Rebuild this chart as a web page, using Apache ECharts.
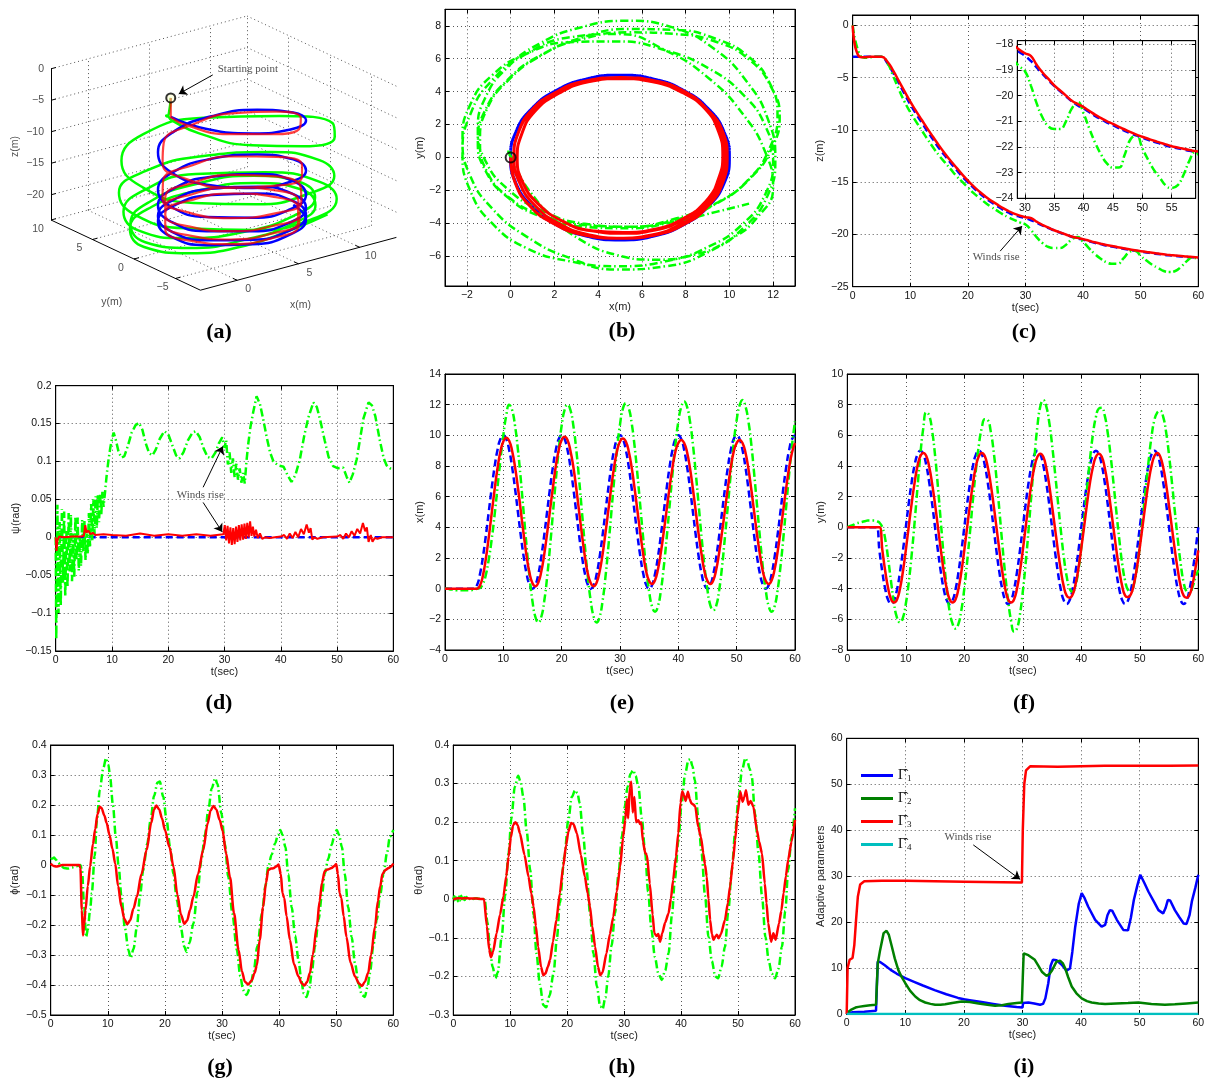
<!DOCTYPE html>
<html>
<head>
<meta charset="utf-8">
<title>Trajectory tracking results</title>
<script src="https://cdn.jsdelivr.net/npm/echarts@6/dist/echarts.min.js"></script>
<style>
    html, body { margin: 0; padding: 0; background: #fff; }
    #main { width: 1210px; height: 1080px; }
</style>
</head>
<body>
<div id="main"></div>
<script>
// sampling grids
var T_HALF = [];
for (var i = 0; i <= 120; i++) T_HALF.push(i / 2);
var T_ONE = [];
for (var k = 0; k <= 60; k++) T_ONE.push(k);

// x(t), 0.5 s steps: reference (blue), actual (red), compared (green)
var xRef = [0,0,0,0,0,0,0,0,0,0,0,
    0.24,0.95,2.06,3.45,5,6.55,7.94,9.05,9.76,10,9.76,9.05,7.94,6.55,5,3.45,2.06,0.95,0.24,0,
    0.24,0.95,2.06,3.45,5,6.55,7.94,9.05,9.76,10,9.76,9.05,7.94,6.55,5,3.45,2.06,0.95,0.24,0,
    0.24,0.95,2.06,3.45,5,6.55,7.94,9.05,9.76,10,9.76,9.05,7.94,6.55,5,3.45,2.06,0.95,0.24,0,
    0.24,0.95,2.06,3.45,5,6.55,7.94,9.05,9.76,10,9.76,9.05,7.94,6.55,5,3.45,2.06,0.95,0.24,0,
    0.24,0.95,2.06,3.45,5,6.55,7.94,9.05,9.76,10,9.76,9.05,7.94,6.55,5,3.45,2.06,0.95,0.24,0,
    0.24,0.95,2.06,3.45,5,6.55,7.94,9.05,9.76,10];
var xAct = [0,0,0,0,0,0,0,0,0,0,0,0,
    0.2,0.85,1.95,3.35,4.9,6.45,7.85,8.95,9.6,9.85,
    9.65,9.0,7.95,6.6,5.05,3.5,2.1,1.0,0.35,0.15,
    0.4,1.1,2.2,3.6,5.1,6.6,8.0,9.05,9.7,9.9,
    9.7,9.0,7.95,6.55,5.0,3.45,2.05,0.95,0.35,0.15,
    0.4,1.1,2.2,3.6,5.1,6.6,7.95,9.0,9.6,9.8,
    9.6,8.95,7.9,6.55,5.05,3.55,2.2,1.1,0.5,0.3,
    0.55,1.25,2.35,3.7,5.15,6.6,7.9,8.95,9.5,9.7,
    9.5,8.9,7.85,6.5,5.0,3.5,2.2,1.1,0.5,0.3,
    0.55,1.25,2.35,3.7,5.15,6.6,7.9,8.95,9.5,9.7,
    9.5,8.9,7.85,6.5,5.0,3.5,2.2,1.1,0.5,0.3,
    0.55,1.25,2.35,3.7,5.15,6.6,7.9,8.9,9.5];
var xCmp = [0,0,-0.05,-0.05,-0.1,-0.1,-0.1,-0.1,-0.1,-0.1,-0.05,0,0.05,
    0.3,0.9,1.9,3.2,4.8,6.6,8.4,10.0,11.3,12.0,
    11.65,10.64,9.07,7.09,4.9,2.71,0.73,-0.84,-1.85,-2.2,
    -1.85,-0.84,0.73,2.71,4.9,7.09,9.07,10.64,11.65,12.0,
    11.65,10.64,9.07,7.09,4.9,2.71,0.73,-0.84,-1.85,-2.2,
    -1.85,-0.84,0.73,2.71,4.9,7.1,9.1,10.7,11.75,12.1,
    11.77,10.8,9.3,7.4,5.3,3.2,1.3,-0.2,-1.17,-1.5,
    -1.15,-0.15,1.4,3.3,5.4,7.5,9.4,10.9,11.85,12.2,
    11.85,10.9,9.4,7.5,5.4,3.3,1.4,-0.1,-1.1,-1.4,
    -1.1,-0.1,1.45,3.4,5.45,7.55,9.5,11.0,11.95,12.3,
    11.9,10.95,9.45,7.5,5.4,3.3,1.35,-0.15,-1.15,-1.5,
    -1.15,-0.15,1.4,3.3,5.4,7.5,9.4,10.9];

// y(t), 0.5 s steps
var yRef = [0,0,0,0,0,0,0,0,0,0,0,
    -1.55,-2.94,-4.05,-4.76,-5,-4.76,-4.05,-2.94,-1.55,0,1.55,2.94,4.05,4.76,5,4.76,4.05,2.94,1.55,0,
    -1.55,-2.94,-4.05,-4.76,-5,-4.76,-4.05,-2.94,-1.55,0,1.55,2.94,4.05,4.76,5,4.76,4.05,2.94,1.55,0,
    -1.55,-2.94,-4.05,-4.76,-5,-4.76,-4.05,-2.94,-1.55,0,1.55,2.94,4.05,4.76,5,4.76,4.05,2.94,1.55,0,
    -1.55,-2.94,-4.05,-4.76,-5,-4.76,-4.05,-2.94,-1.55,0,1.55,2.94,4.05,4.76,5,4.76,4.05,2.94,1.55,0,
    -1.55,-2.94,-4.05,-4.76,-5,-4.76,-4.05,-2.94,-1.55,0,1.55,2.94,4.05,4.76,5,4.76,4.05,2.94,1.55,0,
    -1.55,-2.94,-4.05,-4.76,-5,-4.76,-4.05,-2.94,-1.55,0];
var yAct = [0,0,0,0,0,0,0,0,0,0,0,0,
    -1.5,-2.9,-4.0,-4.7,-4.9,-4.7,-4.0,-2.9,-1.5,0.05,
    1.55,2.9,4.0,4.65,4.85,4.65,3.95,2.85,1.5,0,
    -1.5,-2.9,-4.0,-4.7,-4.9,-4.7,-4.0,-2.9,-1.5,0.05,
    1.55,2.9,4.0,4.65,4.85,4.65,3.95,2.85,1.5,0,
    -1.5,-2.9,-4.0,-4.7,-4.9,-4.7,-4.0,-2.9,-1.5,0.05,
    1.55,2.9,3.95,4.6,4.8,4.6,3.9,2.8,1.4,-0.05,
    -1.5,-2.8,-3.85,-4.45,-4.6,-4.4,-3.75,-2.7,-1.35,0.1,
    1.6,2.95,3.95,4.6,4.8,4.6,3.9,2.8,1.4,-0.05,
    -1.5,-2.8,-3.85,-4.45,-4.55,-4.35,-3.7,-2.65,-1.3,0.15,
    1.6,2.95,4.0,4.65,4.85,4.6,3.9,2.8,1.4,-0.05,
    -1.5,-2.8,-3.85,-4.45,-4.6,-4.4,-3.75,-2.7,-1.5];
var yCmp = [0,0.1,0.15,0.25,0.3,0.35,0.4,0.45,0.45,0.45,0.4,0.3,0,
    -0.8,-2.1,-3.6,-5.0,-5.9,-6.2,-5.9,-5.0,-3.6,
    -1.8,0.3,2.6,4.8,6.5,7.5,7.3,6.3,4.7,2.6,
    0.3,-2.0,-4.0,-5.5,-6.3,-6.6,-6.3,-5.4,-4.0,-2.2,
    -0.2,1.9,3.8,5.4,6.5,7.05,7.0,6.3,5.0,3.2,
    1.1,-1.1,-3.1,-4.8,-6.1,-6.8,-6.6,-5.7,-4.2,-2.3,
    -0.1,2.3,4.6,6.6,7.9,8.3,7.9,6.9,5.4,3.6,
    1.7,-0.2,-1.9,-3.2,-4.0,-4.2,-3.8,-2.8,-1.3,0.6,
    2.6,4.5,6.1,7.2,7.75,7.8,7.3,6.2,4.7,2.9,
    1.0,-0.8,-2.4,-3.5,-4.1,-4.2,-3.7,-2.7,-1.2,0.6,
    2.5,4.3,5.9,7.0,7.5,7.6,7.2,6.2,4.7,2.9,
    1.0,-0.8,-2.4,-3.6,-4.2,-4.3,-3.9,-3.3,-2.8];

// z(t), 1 s steps
var zRef = [-3,-3,-3,-3,-3,-3,-3.6,-4.5,-5.5,-6.55,-7.55,-8.45,-9.3,-10.15,-10.95,-11.75,
    -12.45,-13.15,-13.8,-14.45,-15.0,-15.55,-16.05,-16.5,-16.9,-17.25,-17.6,-17.9,-18.15,-18.3,
    -18.45,-18.65,-18.9,-19.15,-19.4,-19.62,-19.83,-20.03,-20.22,-20.38,-20.5,-20.65,-20.8,-20.92,
    -21.05,-21.15,-21.27,-21.37,-21.47,-21.56,-21.64,-21.72,-21.8,-21.87,-21.94,-22.0,-22.05,
    -22.1,-22.15,-22.19,-22.22];
var zAct = [0,-2.9,-3.05,-3.0,-3.0,-3.0,-3.45,-4.3,-5.3,-6.3,-7.3,-8.2,-9.05,-9.9,-10.7,-11.5,
    -12.25,-12.95,-13.6,-14.25,-14.85,-15.4,-15.9,-16.35,-16.75,-17.1,-17.45,-17.75,-18.0,-18.2,
    -18.35,-18.45,-18.8,-19.1,-19.35,-19.6,-19.8,-20.0,-20.2,-20.33,-20.45,-20.6,-20.75,-20.88,
    -21.0,-21.1,-21.22,-21.32,-21.42,-21.52,-21.6,-21.68,-21.76,-21.83,-21.9,-21.97,-22.02,
    -22.07,-22.12,-22.16,-22.2];
var zCmp = [0,-2.5,-3.1,-3.05,-3.0,-3.0,-3.55,-4.8,-6.1,-7.3,-8.3,-9.2,-10.05,-10.9,-11.7,-12.45,
    -13.1,-13.75,-14.4,-14.95,-15.5,-16.05,-16.5,-16.95,-17.35,-17.7,-18.05,-18.35,-18.6,-18.85,
    -19.05,-19.6,-20.3,-20.85,-21.2,-21.3,-21.3,-21.0,-20.5,-20.25,-20.7,-21.3,-21.85,-22.3,
    -22.65,-22.8,-22.8,-22.3,-21.7,-21.55,-22.05,-22.5,-22.9,-23.2,-23.5,-23.6,-23.5,-23.1,
    -22.55,-22.2,-22.45];

// yaw psi(t) as [t, rad]
var psiRef = [[0, 0], [60, 0]];
var psiAct = [[0,0],[0.15,-0.018],[0.3,-0.004],[0.6,0.001],[1.5,0],[3,0.001],[4.5,0.001],[5.0,0.002],
    [5.25,0.016],[5.5,0.006],[5.8,0.009],[6.2,0.004],[6.6,0.006],[7.0,0.003],[8.5,0.004],[10,0.003],
    [12.5,0.002],[15,0.005],[17.5,0.002],[20,0.004],[22.5,0.002],[25,0.004],[27.5,0.002],[29.8,0.004],
    [30.05,0.016],[30.3,-0.004],[30.55,0.015],[30.8,-0.008],[31.05,0.013],[31.3,-0.01],[31.55,0.012],
    [31.8,-0.009],[32.05,0.014],[32.3,-0.006],[32.55,0.016],[32.8,-0.004],[33.05,0.017],[33.3,-0.003],
    [33.55,0.018],[33.8,-0.002],[34.05,0.019],[34.3,0.0],[34.55,0.021],[34.8,0.002],[35.05,0.014],
    [35.3,0.001],[35.6,0.01],[35.9,-0.001],[36.3,0.005],[36.7,-0.002],[37.2,0.0],[38,-0.001],[40,0.001],
    [40.6,0.003],[41.1,-0.002],[41.6,0.005],[42.1,-0.001],[42.6,0.007],[43.1,0.0],[43.6,0.011],
    [44.1,0.004],[44.6,0.017],[45.0,0.006],[45.3,0.012],[45.6,-0.003],[46.0,0.0],[46.5,-0.002],
    [47.5,0.0],[50,0.001],[50.6,0.003],[51.1,-0.002],[51.6,0.005],[52.1,0.0],[52.6,0.008],[53.1,0.002],
    [53.6,0.011],[54.1,0.005],[54.6,0.019],[55.0,0.008],[55.3,0.013],[55.6,-0.006],[56.0,0.003],
    [56.3,-0.006],[56.7,-0.001],[57.2,-0.002],[58,0.0],[60,0.0]];
var psiCmp = [[0,0],[0.1,-0.135],[0.3,0.043],[0.5,-0.1],[0.7,0.02],[0.9,-0.09],[1.1,0.037],
    [1.3,-0.06],[1.5,0.034],[1.7,-0.078],[1.9,0.01],[2.1,-0.066],[2.3,0.032],[2.5,-0.045],[2.7,0.03],
    [2.9,-0.058],[3.1,0.005],[3.3,-0.052],[3.5,0.027],[3.7,-0.03],[3.9,0.026],[4.1,-0.044],[4.3,0.0],
    [4.5,-0.038],[4.7,0.023],[4.9,-0.02],[5.1,0.022],[5.3,-0.03],[5.5,0.005],[5.7,-0.022],[5.9,0.032],
    [6.1,-0.012],[6.3,0.044],[6.5,-0.004],[6.7,0.05],[6.9,0.004],[7.1,0.054],[7.3,0.012],[7.5,0.056],
    [7.7,0.02],[7.9,0.058],[8.1,0.03],[8.3,0.06],[8.5,0.04],[8.8,0.062],
    [9.1,0.085],[9.4,0.103],[9.7,0.118],[10.0,0.13],[10.3,0.138],[10.7,0.128],[11.2,0.112],
    [11.7,0.105],[12.2,0.107],[12.8,0.12],[13.5,0.138],[14.2,0.148],[14.8,0.151],[15.4,0.142],
    [16.0,0.124],[16.6,0.111],[17.2,0.108],[17.8,0.116],[18.5,0.13],[19.3,0.14],[20.0,0.136],
    [20.7,0.122],[21.4,0.108],[22.0,0.104],[22.7,0.112],[23.5,0.128],[24.3,0.138],[24.9,0.14],
    [25.6,0.132],[26.3,0.117],[27.0,0.106],[27.7,0.104],[28.4,0.112],[29.0,0.124],[29.6,0.132],
    [30.0,0.118],[30.3,0.128],[30.6,0.096],[30.9,0.112],[31.2,0.085],[31.5,0.104],[31.8,0.079],
    [32.1,0.097],[32.4,0.076],[32.7,0.091],[33.0,0.072],[33.3,0.085],[33.6,0.071],[33.9,0.1],
    [34.2,0.122],[34.6,0.145],[35.1,0.165],[35.7,0.186],[36.3,0.176],[36.9,0.155],[37.5,0.132],
    [38.1,0.112],[38.7,0.1],[39.5,0.095],[40.5,0.093],[41.2,0.082],[41.9,0.073],[42.6,0.082],
    [43.4,0.103],[44.2,0.135],[44.9,0.158],[45.8,0.178],[46.4,0.172],[47.0,0.155],[47.8,0.128],
    [48.5,0.106],[49.3,0.094],[50.2,0.091],[51.1,0.092],[51.7,0.08],[52.2,0.072],[52.8,0.083],
    [53.5,0.103],[54.1,0.13],[54.7,0.157],[55.6,0.178],[56.2,0.174],[56.8,0.16],[57.6,0.128],
    [58.3,0.104],[58.8,0.095],[59.4,0.091],[60,0.09]];

// roll phi(t)
var phiAct = [[0,0.005],[0.5,-0.003],[1,-0.005],[1.5,-0.003],[2,0],[3,0],[4,0],[5,0],[5.2,-0.01],
    [5.45,-0.15],[5.65,-0.235],[5.85,-0.2],[6.1,-0.15],[6.5,-0.07],[6.9,-0.005],[7.4,0.07],[7.8,0.12],
    [8.2,0.17],[8.6,0.194],[8.9,0.19],[9.4,0.165],[9.8,0.14],[10.3,0.1],[10.8,0.055],[11.3,0.005],
    [11.8,-0.07],[12.4,-0.14],[12.9,-0.18],[13.4,-0.197],[13.9,-0.185],[14.5,-0.145],[15.1,-0.105],
    [15.9,-0.03],[16.8,0.05],[17.6,0.14],[18.1,0.185],[18.5,0.198],[19,0.185],[19.5,0.155],[20,0.117],
    [20.8,0.06],[21.5,-0.005],[22.2,-0.1],[22.8,-0.165],[23.4,-0.196],[23.9,-0.185],[24.4,-0.15],
    [25,-0.105],[25.8,-0.03],[26.7,0.05],[27.5,0.14],[28,0.182],[28.5,0.197],[29,0.185],[29.6,0.15],
    [30.1,0.115],[30.7,0.04],[31.4,-0.04],[32.1,-0.16],[32.9,-0.283],[33.5,-0.355],[34,-0.389],
    [34.6,-0.398],[35.2,-0.385],[35.7,-0.36],[36.1,-0.335],[36.6,-0.25],[37.2,-0.14],[37.7,-0.06],
    [38.1,-0.017],[38.6,-0.012],[39,-0.011],[39.5,-0.005],[39.9,0.002],[40.3,-0.03],[40.6,-0.095],
    [40.9,-0.11],[41.3,-0.17],[41.9,-0.25],[42.6,-0.33],[43.4,-0.372],[44,-0.395],[44.4,-0.402],
    [44.9,-0.39],[45.4,-0.36],[45.9,-0.3],[46.6,-0.205],[47.1,-0.12],[47.5,-0.06],[48,-0.02],
    [48.5,-0.015],[49.2,-0.01],[49.6,-0.004],[50,0.003],[50.3,-0.03],[50.6,-0.095],[50.9,-0.11],
    [51.3,-0.17],[51.8,-0.24],[52.5,-0.325],[53.3,-0.372],[54,-0.395],[54.5,-0.403],[55,-0.39],
    [55.6,-0.36],[56.1,-0.3],[56.8,-0.205],[57.3,-0.12],[57.7,-0.072],[58.1,-0.03],[58.6,-0.017],
    [59.2,-0.01],[59.6,-0.005],[60,0.005]];
var phiCmp = [[0,0.02],[0.3,0.022],[0.6,0.025],[0.9,0.018],[1.3,0.008],[1.8,-0.002],[2.3,-0.01],
    [3,-0.012],[3.8,-0.008],[4.5,-0.004],[5.2,0.0],[5.5,-0.02],[5.8,-0.12],[6.2,-0.24],[6.5,-0.215],
    [6.9,-0.15],[7.2,-0.094],[7.7,0.03],[8.1,0.15],[8.6,0.25],[9.2,0.322],[9.7,0.356],[10.1,0.335],
    [10.4,0.294],[10.9,0.2],[11.4,0.094],[11.9,-0.005],[12.4,-0.106],[13,-0.21],[13.6,-0.283],
    [14,-0.31],[14.5,-0.28],[15.1,-0.206],[15.6,-0.11],[16.2,-0.017],[16.9,0.07],[17.5,0.15],
    [18.1,0.23],[18.7,0.275],[19.1,0.278],[19.7,0.228],[20.3,0.15],[20.9,0.06],[21.5,-0.03],
    [22.1,-0.117],[22.8,-0.21],[23.4,-0.272],[23.8,-0.29],[24.3,-0.26],[25,-0.194],[25.7,-0.09],
    [26.4,0.017],[27,0.1],[27.6,0.183],[28.2,0.255],[28.8,0.289],[29.2,0.27],[29.9,0.172],[30.5,0.07],
    [31.1,-0.039],[31.8,-0.16],[32.6,-0.283],[33.2,-0.37],[33.7,-0.417],[34.3,-0.433],[34.9,-0.41],
    [35.5,-0.361],[36.2,-0.27],[37,-0.161],[37.6,-0.07],[38.1,-0.006],[38.7,0.035],[39.3,0.072],
    [39.8,0.1],[40.2,0.117],[40.6,0.1],[41.1,0.06],[41.6,-0.03],[42.2,-0.14],[42.8,-0.235],
    [43.4,-0.317],[43.9,-0.385],[44.3,-0.428],[44.8,-0.44],[45.3,-0.41],[45.7,-0.361],[46.3,-0.27],
    [46.9,-0.183],[47.5,-0.1],[48,-0.028],[48.6,0.02],[49.2,0.067],[49.7,0.1],[50.1,0.117],[50.5,0.1],
    [51,0.06],[51.5,-0.03],[52.1,-0.14],[52.7,-0.24],[53.3,-0.328],[53.9,-0.395],[54.5,-0.433],
    [55,-0.44],[55.5,-0.405],[55.9,-0.361],[56.5,-0.27],[57.1,-0.183],[57.7,-0.1],[58.3,-0.028],
    [58.9,0.04],[59.4,0.094],[60,0.117]];

// pitch theta(t)
var thetaAct = [[0,0],[0.5,0.002],[1,0.003],[1.5,0.002],[2,0.003],[3,0.002],[4,0.002],[5,0.001],
    [5.4,0],[5.9,-0.07],[6.3,-0.13],[6.6,-0.15],[7.0,-0.135],[7.6,-0.088],[8.2,-0.04],[8.8,0.007],
    [9.3,0.06],[9.7,0.11],[10.1,0.16],[10.5,0.192],[10.9,0.2],[11.3,0.192],[11.7,0.171],[12.5,0.115],
    [13.2,0.059],[13.7,0.015],[14.1,-0.019],[14.5,-0.07],[14.9,-0.123],[15.4,-0.175],[15.8,-0.197],
    [16.2,-0.192],[16.6,-0.175],[17,-0.157],[17.5,-0.11],[18.1,-0.054],[18.7,0.015],[19.3,0.085],
    [19.8,0.14],[20.2,0.175],[20.7,0.198],[21.1,0.195],[21.7,0.171],[22.4,0.115],[23.1,0.059],
    [23.6,0.015],[24,-0.019],[24.4,-0.07],[24.9,-0.123],[25.4,-0.175],[25.8,-0.197],[26.2,-0.19],
    [26.9,-0.14],[27.5,-0.09],[28.1,-0.045],[28.7,0.02],[29.3,0.085],[29.8,0.16],[30.2,0.206],
    [30.5,0.26],[30.7,0.21],[31.0,0.29],[31.25,0.305],[31.5,0.225],[31.8,0.265],[32.1,0.2],
    [32.5,0.205],[32.8,0.195],[33.0,0.2],[33.3,0.15],[33.7,0.12],[34.0,0.115],[34.5,0.04],[35.0,-0.04],
    [35.3,-0.088],[35.7,-0.095],[36.0,-0.09],[36.3,-0.11],[36.7,-0.088],[37.2,-0.06],[37.8,-0.036],
    [38.2,0.0],[38.6,0.05],[39.1,0.11],[39.5,0.171],[39.9,0.25],[40.2,0.28],[40.5,0.27],[40.8,0.255],
    [41.2,0.279],[41.5,0.26],[41.8,0.249],[42.2,0.245],[42.5,0.24],[43,0.188],[43.5,0.16],[43.9,0.119],
    [44.2,0.09],[44.5,0.059],[44.8,0.0],[45.1,-0.054],[45.4,-0.09],[45.7,-0.105],[46.0,-0.097],
    [46.3,-0.092],[46.6,-0.101],[47.0,-0.09],[47.7,-0.054],[48.2,-0.01],[48.6,0.033],[49.1,0.1],
    [49.5,0.154],[49.9,0.22],[50.4,0.279],[50.8,0.253],[51.1,0.265],[51.4,0.283],[51.8,0.245],
    [52.2,0.255],[52.7,0.24],[53.3,0.18],[53.7,0.15],[54.2,0.119],[54.7,0.041],[55.0,-0.01],
    [55.3,-0.062],[55.8,-0.11],[56.2,-0.088],[56.6,-0.105],[57.2,-0.062],[57.6,-0.03],[58,0.016],
    [58.4,0.06],[58.8,0.102],[59.4,0.15],[60,0.206]];
var thetaCmp = [[0,0],[0.2,0.008],[0.4,-0.004],[0.6,0.01],[0.8,-0.005],[1.0,0.011],[1.2,-0.003],
    [1.4,0.009],[1.6,-0.004],[1.8,0.008],[2.0,-0.002],[2.3,0.006],[2.6,-0.001],[3.0,0.004],[3.5,0.001],
    [4,0.003],[4.5,0.001],[5,0.002],[5.5,0],[6.0,-0.06],[6.4,-0.123],[6.9,-0.175],[7.4,-0.205],
    [7.8,-0.19],[8.5,-0.097],[9.1,0.01],[9.7,0.119],[10.2,0.21],[10.8,0.292],[11.4,0.32],[11.8,0.305],
    [12.3,0.266],[12.9,0.175],[13.5,0.076],[14.1,-0.04],[14.6,-0.14],[15.2,-0.22],[15.8,-0.274],
    [16.3,-0.28],[16.9,-0.25],[17.6,-0.192],[18.2,-0.1],[18.7,-0.01],[19.5,0.11],[20.2,0.206],
    [20.8,0.265],[21.4,0.283],[21.8,0.275],[22.2,0.249],[22.8,0.165],[23.4,0.076],[24,-0.035],
    [24.6,-0.14],[25.2,-0.225],[25.8,-0.278],[26.2,-0.285],[26.7,-0.255],[27.2,-0.2],[27.8,-0.12],
    [28.4,-0.036],[29,0.065],[29.6,0.162],[30.1,0.24],[30.6,0.292],[31.1,0.325],[31.6,0.335],
    [32.0,0.32],[32.5,0.292],[33.1,0.21],[33.7,0.119],[34.2,0.02],[34.8,-0.08],[35.4,-0.15],
    [36,-0.192],[36.6,-0.209],[37.2,-0.185],[37.8,-0.14],[38.4,-0.04],[38.9,0.05],[39.5,0.15],
    [40.1,0.249],[40.7,0.325],[41.3,0.361],[41.6,0.364],[42.0,0.345],[42.4,0.309],[43.0,0.215],
    [43.6,0.119],[44.2,0.01],[44.8,-0.097],[45.4,-0.16],[46,-0.2],[46.5,-0.205],[47.1,-0.175],
    [47.7,-0.123],[48.3,-0.03],[48.9,0.076],[49.5,0.175],[50.1,0.266],[50.7,0.335],[51.3,0.366],
    [51.7,0.355],[52.0,0.34],[52.4,0.318],[53,0.22],[53.6,0.119],[54.2,0.01],[54.8,-0.097],
    [55.4,-0.16],[55.9,-0.192],[56.5,-0.205],[57.1,-0.18],[57.7,-0.123],[58.3,-0.03],[58.8,0.076],
    [59.4,0.16],[60,0.236]];

// adaptive parameters
var gamma1 = [[0,0],[0.5,0.25],[1,0.4],[2,0.45],[3,0.5],[4,0.6],[5,0.7],[5.15,0.8],[5.3,11.4],
    [5.7,11.3],[6.5,10.6],[7.5,9.6],[8.5,8.8],[10,7.8],[11.5,7.0],[13,6.2],[15,5.2],[17,4.3],[19,3.5],
    [20,3.2],[21,3.0],[23,2.6],[25,2.2],[27,1.8],[29,1.5],[30,1.4],[30.1,2.4],[31,2.5],[32,2.3],
    [33,2.0],[33.5,2.2],[33.9,3.4],[34.4,6.7],[34.8,10.5],[35.2,11.8],[35.8,11.7],[36.7,10.7],
    [37.5,9.4],[38.1,9.9],[38.5,13.5],[39,19],[39.6,24],[40.1,26.3],[40.6,25.2],[41.2,23.4],
    [42.4,20.5],[43.5,19],[44.1,19.4],[44.5,21.5],[44.9,22.6],[45.3,22.5],[46.1,20.5],[47.2,18.3],
    [48,18.2],[48.5,21],[49,24.8],[49.6,28],[50.1,30.3],[50.8,28.5],[51.5,26.6],[52.4,24.5],
    [53.2,22.6],[54,21.9],[54.4,23],[54.8,24.8],[55.2,24.7],[56,22.6],[56.8,21],[57.5,19.7],[58,19.6],
    [58.5,21.5],[58.9,24.5],[59.5,27.5],[60,30.3]];
var gamma2 = [[0,0],[0.3,0.5],[0.7,0.9],[1,1.1],[1.5,1.4],[2,1.55],[3,1.75],[4,1.9],[5,2.0],
    [5.2,2.1],[5.3,11],[5.7,13.9],[6.3,17.6],[6.8,18.1],[7.2,17.2],[7.7,14.7],[8.2,12.1],[8.8,9.6],
    [9.4,8.0],[10,6.7],[10.8,5.1],[11.7,3.8],[12.5,3.0],[13.4,2.5],[14.3,2.2],[15.1,2.0],[16,2.0],
    [16.8,2.1],[18,2.4],[19.6,2.7],[21,2.6],[22.5,2.3],[24,2.0],[25.3,1.8],[26.5,1.9],[27.6,2.2],
    [29,2.4],[29.9,2.5],[30.05,8],[30.2,13.2],[31,12.8],[32.1,11.8],[32.8,10.3],[33.3,9.2],[34.1,8.3],
    [34.6,8.7],[35,9.4],[35.8,11.4],[36.4,11.6],[36.9,11.0],[37.3,9.9],[37.8,8.0],[38.4,6.0],
    [39.2,4.5],[40.1,3.4],[41,2.8],[41.8,2.5],[43,2.3],[44.1,2.2],[46,2.3],[48,2.4],[49.8,2.5],
    [52,2.2],[54.3,2.0],[56,2.1],[58,2.3],[60,2.5]];
var gamma3 = [[0,0],[0.15,10],[0.5,11.8],[1.0,12.2],[1.3,15],[1.6,20.5],[1.9,25.5],[2.3,28.2],
    [3,28.9],[6,29.0],[10,29.0],[20,28.8],[29.9,28.6],[30.05,40],[30.3,50],[30.6,53],[31.3,53.9],
    [36,53.8],[44,54],[50,54],[55,54],[60,54.1]];
var gamma4 = [[0,0],[60,0]];

// tick values
var T_TICKS = [0, 10, 20, 30, 40, 50, 60];
var B_X_TICKS = [-2, 0, 2, 4, 6, 8, 10, 12];
var B_Y_TICKS = [-6, -4, -2, 0, 2, 4, 6, 8];
var C_Y_TICKS = [-25, -20, -15, -10, -5, 0];
var INSET_X_TICKS = [30, 35, 40, 45, 50, 55];
var INSET_Y_TICKS = [-24, -23, -22, -21, -20, -19, -18];
var D_Y_TICKS = [-0.15, -0.1, -0.05, 0, 0.05, 0.1, 0.15, 0.2];
var E_Y_TICKS = [-4, -2, 0, 2, 4, 6, 8, 10, 12, 14];
var F_Y_TICKS = [-8, -6, -4, -2, 0, 2, 4, 6, 8, 10];
var G_Y_TICKS = [-0.5, -0.4, -0.3, -0.2, -0.1, 0, 0.1, 0.2, 0.3, 0.4];
var H_Y_TICKS = [-0.3, -0.2, -0.1, 0, 0.1, 0.2, 0.3, 0.4];
var I_Y_TICKS = [0, 10, 20, 30, 40, 50, 60];

// 3D box of panel (a)
var BOX_X = [-3, 13], BOX_Y = [-8, 10], BOX_Z = [-24, 0];
var X3_TICKS = [0, 5, 10], Y3_TICKS = [-5, 0, 5, 10], Z3_TICKS = [-20, -15, -10, -5, 0];

var SANS = "'Liberation Sans', Arial, Helvetica, sans-serif";
var SERIF = "'Liberation Serif', 'Times New Roman', serif";
var BLUE = '#0000ff', RED = '#ff0000', GREEN = '#00ff00';

function tickText(v) {
    return (v < 0 ? '\u2212' : '') + String(Math.abs(v));
}

function zip(ts, vs) {
    return ts.map(function (t, i) { return [t, vs[i]]; });
}

// screen projection of the 3D view (pixel units of grid 0)
function proj(x, y, z) {
    var a = x - BOX_X[0], b = BOX_Y[1] - y, c = z - BOX_Z[0];
    return [51 + a * 12.25 + b * 8.3, 220 - a * 3.3 + b * 3.9 - c * 6.3];
}

function helix(xs, ys, zs) {
    return zs.map(function (z, n) { return proj(xs[2 * n], ys[2 * n], z); });
}

var chart = echarts.init(document.getElementById('main'), null, {renderer: 'canvas'});

var RECTS = [
    {left: 0, top: 0, width: 410, height: 340},
    {left: 445, top: 9.3, width: 350, height: 276.7},
    {left: 852.7, top: 15, width: 345.6, height: 271.7},
    {left: 1017.3, top: 40.7, width: 178.4, height: 157.6},
    {left: 55.7, top: 385.7, width: 337.6, height: 265.3},
    {left: 445, top: 374, width: 350, height: 276},
    {left: 847.3, top: 374, width: 351, height: 276},
    {left: 50.7, top: 745, width: 342.6, height: 270},
    {left: 453.3, top: 745, width: 341.7, height: 270},
    {left: 846.7, top: 738.3, width: 351.6, height: 275.7}
];

// [xmin, xmax, xticks, xname, xgap], [ymin, ymax, yticks, yname, ygap]
var AXES = [
    null,
    [[-3, 13, B_X_TICKS, 'x(m)', 15], [-7.8, 9, B_Y_TICKS, 'y(m)', 19]],
    [[0, 60, T_TICKS, 't(sec)', 15], [-25, 1, C_Y_TICKS, 'z(m)', 27]],
    [[28.7, 59.1, INSET_X_TICKS, '', 0], [-24, -17.86, INSET_Y_TICKS, '', 0]],
    [[0, 60, T_TICKS, 't(sec)', 15], [-0.15, 0.2, D_Y_TICKS, '\u03c8(rad)', 34]],
    [[0, 60, T_TICKS, 't(sec)', 15], [-4, 14, E_Y_TICKS, 'x(m)', 19]],
    [[0, 60, T_TICKS, 't(sec)', 15], [-8, 10, F_Y_TICKS, 'y(m)', 21]],
    [[0, 60, T_TICKS, 't(sec)', 15], [-0.5, 0.4, G_Y_TICKS, '\u03d5(rad)', 30]],
    [[0, 60, T_TICKS, 't(sec)', 15], [-0.3, 0.4, H_Y_TICKS, '\u03b8(rad)', 29]],
    [[0, 60, T_TICKS, 't(sec)', 15], [0, 60, I_Y_TICKS, 'Adaptive parameters', 20]]
];

function makeAxis(dim, gi, spec, mirror, z) {
    var isX = dim === 'x';
    return {
        type: 'value', gridIndex: gi, min: spec[0], max: spec[1],
        position: isX ? (mirror ? 'top' : 'bottom') : (mirror ? 'right' : 'left'),
        name: mirror ? '' : spec[3], nameLocation: 'middle', nameGap: spec[4],
        nameTextStyle: {fontFamily: SANS, fontSize: 11, color: '#222'},
        axisLine: {show: true, onZero: false, lineStyle: {color: '#000', width: 1}},
        axisTick: {show: true, inside: true, length: 4, customValues: spec[2], lineStyle: {color: '#000', width: 1}},
        axisLabel: {show: !mirror, customValues: spec[2], formatter: tickText, margin: 4,
            fontFamily: SANS, fontSize: 10.5, color: '#111'},
        splitLine: {show: !mirror, lineStyle: {color: '#555', width: 1, type: [1, 3]}},
        axisPointer: {show: false},
        z: z
    };
}

var grids = [], xAxes = [], yAxes = [], mirrorX = [], mirrorY = [];
RECTS.forEach(function (r, gi) {
    var g = {left: r.left, top: r.top, width: r.width, height: r.height,
        containLabel: false, outerBoundsMode: 'none', show: gi > 0,
        borderColor: '#000', borderWidth: 1, backgroundColor: gi === 3 ? '#fff' : 'transparent',
        z: gi === 3 ? 10 : 0};
    grids.push(g);
    if (gi === 0) {
        xAxes.push({type: 'value', gridIndex: 0, min: 0, max: r.width, show: false});
        yAxes.push({type: 'value', gridIndex: 0, min: 0, max: r.height, inverse: true, show: false});
        return;
    }
    var z = gi === 3 ? 11 : 0;
    xAxes.push(makeAxis('x', gi, AXES[gi][0], false, z));
    yAxes.push(makeAxis('y', gi, AXES[gi][1], false, z));
    mirrorX.push(makeAxis('x', gi, AXES[gi][0], true, z));
    mirrorY.push(makeAxis('y', gi, AXES[gi][1], true, z));
});
xAxes = xAxes.concat(mirrorX);
yAxes = yAxes.concat(mirrorY);

var STYLE = {
    ref: {color: BLUE, type: [7, 4], width: 2.5},
    act: {color: RED, type: 'solid', width: 2.5},
    cmp: {color: GREEN, type: [8, 3, 1.5, 3], width: 2.5}
};

function curve(gi, data, kind, opts) {
    opts = opts || {};
    var st = STYLE[kind];
    return {
        type: 'line', name: opts.name, xAxisIndex: gi, yAxisIndex: gi, data: data,
        showSymbol: false, symbol: 'none', smooth: opts.smooth === undefined ? true : opts.smooth,
        smoothMonotone: opts.mono,
        color: opts.color || st.color,
        lineStyle: {color: opts.color || st.color, type: opts.type || st.type,
            width: opts.width || st.width, opacity: opts.opacity || 1},
        z: opts.z || 2, silent: true, animation: false
    };
}

function segments(gi, segs, style, z) {
    return {
        type: 'lines', coordinateSystem: 'cartesian2d', xAxisIndex: gi, yAxisIndex: gi,
        polyline: false, data: segs.map(function (s) { return {coords: s}; }),
        lineStyle: style, z: z || 1, silent: true, animation: false
    };
}

function arrow(gi, from, to) {
    return {
        type: 'lines', coordinateSystem: 'cartesian2d', xAxisIndex: gi, yAxisIndex: gi,
        polyline: false, symbol: ['none', 'arrow'], symbolSize: 8,
        data: [{coords: [from, to]}],
        lineStyle: {color: '#000', width: 1, opacity: 1},
        z: 20, silent: true, animation: false
    };
}

function notes(gi, items, font) {
    return {
        type: 'scatter', xAxisIndex: gi, yAxisIndex: gi, symbolSize: 0,
        data: items.map(function (it) {
            return {value: it.at, label: {show: true, formatter: it.text, position: it.pos || 'inside',
                offset: it.offset || [0, 0], distance: it.distance || 0, rotate: it.rotate || 0}};
        }),
        label: {fontFamily: font || SERIF, fontSize: 11, color: '#222'},
        z: 20, silent: true, animation: false
    };
}

var series = [];

// ---- (a) 3D trajectory ----
var wallSegs = [];
function seg3(p, q) { wallSegs.push([proj(p[0], p[1], p[2]), proj(q[0], q[1], q[2])]); }
Z3_TICKS.forEach(function (z) {
    seg3([BOX_X[0], BOX_Y[1], z], [BOX_X[1], BOX_Y[1], z]);
    seg3([BOX_X[1], BOX_Y[1], z], [BOX_X[1], BOX_Y[0], z]);
});
X3_TICKS.forEach(function (x) {
    seg3([x, BOX_Y[1], BOX_Z[0]], [x, BOX_Y[1], BOX_Z[1]]);
    seg3([x, BOX_Y[0], BOX_Z[0]], [x, BOX_Y[1], BOX_Z[0]]);
});
Y3_TICKS.forEach(function (y) {
    seg3([BOX_X[1], y, BOX_Z[0]], [BOX_X[1], y, BOX_Z[1]]);
    seg3([BOX_X[0], y, BOX_Z[0]], [BOX_X[1], y, BOX_Z[0]]);
});
series.push(segments(0, wallSegs, {color: '#555', width: 1, type: [1, 3], opacity: 1}, 1));

var axisSegs = [
    [proj(BOX_X[0], BOX_Y[1], BOX_Z[0]), proj(BOX_X[0], BOX_Y[1], BOX_Z[1])],
    [proj(BOX_X[0], BOX_Y[0], BOX_Z[0]), proj(BOX_X[0], BOX_Y[1], BOX_Z[0])],
    [proj(BOX_X[0], BOX_Y[0], BOX_Z[0]), proj(BOX_X[1], BOX_Y[0], BOX_Z[0])]
];
Z3_TICKS.forEach(function (z) {
    axisSegs.push([proj(BOX_X[0], BOX_Y[1], z), proj(BOX_X[0] + 0.4, BOX_Y[1], z)]);
});
Y3_TICKS.forEach(function (y) {
    axisSegs.push([proj(BOX_X[0], y, BOX_Z[0]), proj(BOX_X[0] + 0.4, y, BOX_Z[0])]);
});
X3_TICKS.forEach(function (x) {
    axisSegs.push([proj(x, BOX_Y[0], BOX_Z[0]), proj(x, BOX_Y[0] + 0.5, BOX_Z[0])]);
});
series.push(segments(0, axisSegs, {color: '#000', width: 1, type: 'solid', opacity: 1}, 3));

var labels3 = [];
Z3_TICKS.forEach(function (z) {
    labels3.push({at: proj(BOX_X[0], BOX_Y[1], z), text: tickText(z), pos: 'left', distance: 7});
});
Y3_TICKS.forEach(function (y) {
    labels3.push({at: proj(BOX_X[0], y, BOX_Z[0]), text: tickText(y), offset: [-13, 9]});
});
X3_TICKS.forEach(function (x) {
    labels3.push({at: proj(x, BOX_Y[0], BOX_Z[0]), text: tickText(x), offset: [11, 9]});
});
// rotated label: offset is taken in the rotated frame
labels3.push({at: proj(BOX_X[0], BOX_Y[1], -12), text: 'z(m)', offset: [-2, -36], rotate: 90});
labels3.push({at: proj(BOX_X[0], 1, BOX_Z[0]), text: 'y(m)', offset: [-14, 47]});
labels3.push({at: proj(5, BOX_Y[0], BOX_Z[0]), text: 'x(m)', offset: [2, 41]});
var lab3 = notes(0, labels3, SANS);
lab3.label.fontSize = 10.5;
series.push(lab3);

series.push(curve(0, helix(xCmp, yCmp, zCmp), 'cmp', {type: 'solid', width: 2.5, z: 4}));
series.push(curve(0, helix(xRef, yRef, zRef), 'ref', {type: 'solid', width: 2.5, z: 5}));
series.push(curve(0, helix(xAct, yAct, zAct), 'act', {width: 2.2, opacity: 0.75, z: 6}));

var start3 = proj(0, 0, 0);
series.push({
    type: 'scatter', xAxisIndex: 0, yAxisIndex: 0, data: [start3], symbol: 'circle', symbolSize: 9,
    itemStyle: {color: 'rgba(255,255,200,0.6)', borderColor: '#000', borderWidth: 2}, z: 8,
    silent: true, animation: false
});
series.push(arrow(0, [start3[0] + 42, start3[1] - 23], [start3[0] + 8, start3[1] - 4]));
series.push(notes(0, [{at: [start3[0] + 47, start3[1] - 29], text: 'Starting point', pos: 'right'}]));

// ---- (b) x-y plane ----
series.push(curve(1, zip(xRef, yRef), 'ref', {width: 3}));
series.push(curve(1, zip(xCmp, yCmp), 'cmp'));
series.push(curve(1, zip(xAct, yAct), 'act', {width: 3}));
series.push({
    type: 'scatter', xAxisIndex: 1, yAxisIndex: 1, data: [[0, 0]], symbol: 'circle', symbolSize: 10,
    itemStyle: {color: 'rgba(0,0,0,0)', borderColor: '#000', borderWidth: 2}, z: 8,
    silent: true, animation: false
});

// ---- (c) altitude with zoomed inset ----
[2, 3].forEach(function (gi) {
    var z = gi === 3 ? 12 : 2;
    series.push(curve(gi, zip(T_ONE, zRef), 'ref', {z: z}));
    series.push(curve(gi, zip(T_ONE, zCmp), 'cmp', {z: z}));
    series.push(curve(gi, zip(T_ONE, zAct), 'act', {z: z}));
});
series.push(arrow(2, [25.6, -21.6], [29.4, -19.2]));
series.push(notes(2, [{at: [24.9, -22.2], text: 'Winds rise'}]));

// ---- (d) yaw ----
series.push(curve(4, psiRef, 'ref', {smooth: false}));
series.push(curve(4, psiCmp, 'cmp', {smooth: false}));
series.push(curve(4, psiAct, 'act', {smooth: false, width: 2}));
series.push(arrow(4, [26.2, 0.066], [29.7, 0.12]));
series.push(arrow(4, [26.2, 0.046], [29.6, 0.007]));
series.push(notes(4, [{at: [25.7, 0.056], text: 'Winds rise'}]));

// ---- (e) x, (f) y ----
series.push(curve(5, zip(T_HALF, xRef), 'ref'));
series.push(curve(5, zip(T_HALF, xCmp), 'cmp'));
series.push(curve(5, zip(T_HALF, xAct), 'act'));
series.push(curve(6, zip(T_HALF, yRef), 'ref'));
series.push(curve(6, zip(T_HALF, yCmp), 'cmp'));
series.push(curve(6, zip(T_HALF, yAct), 'act'));

// ---- (g) roll, (h) pitch ----
series.push(curve(7, phiCmp, 'cmp', {smooth: 0.3, mono: 'x'}));
series.push(curve(7, phiAct, 'act', {smooth: 0.3, mono: 'x'}));
series.push(curve(8, thetaCmp, 'cmp', {smooth: 0.3, mono: 'x'}));
series.push(curve(8, thetaAct, 'act', {smooth: 0.2, mono: 'x'}));

// ---- (i) adaptive parameters ----
series.push(curve(9, gamma1, 'act', {name: 'g1', color: '#0000ff', smooth: false, width: 2.5}));
series.push(curve(9, gamma2, 'act', {name: 'g2', color: '#008000', smooth: false, width: 2.5}));
series.push(curve(9, gamma3, 'act', {name: 'g3', color: '#ff0000', smooth: false, width: 2.5}));
series.push(curve(9, gamma4, 'act', {name: 'g4', color: '#00bfbf', smooth: false, width: 2.5}));
series.push(arrow(9, [21.6, 36.8], [29.6, 29.3]));
series.push(notes(9, [{at: [20.7, 38.5], text: 'Winds rise'}]));

var PANEL_LABELS = [
    ['(a)', 219, 332], ['(b)', 622, 331], ['(c)', 1024, 332],
    ['(d)', 219, 703], ['(e)', 622, 703], ['(f)', 1024, 703],
    ['(g)', 220, 1067], ['(h)', 622, 1067], ['(i)', 1024, 1067]
];

var option = {
    backgroundColor: '#fff',
    animation: false,
    grid: grids,
    xAxis: xAxes,
    yAxis: yAxes,
    legend: {
        data: ['g1', 'g2', 'g3', 'g4'],
        orient: 'vertical', left: 856, top: 763,
        itemWidth: 32, itemHeight: 3, itemGap: 8, icon: 'rect',
        selectedMode: false,
        formatter: function (name) { return '{g|\u0393\u0302}{s|' + name.slice(1) + '}'; },
        textStyle: {
            color: '#111',
            rich: {
                g: {fontFamily: SERIF, fontSize: 14, color: '#111', lineHeight: 15},
                s: {fontFamily: SERIF, fontSize: 9, color: '#111', padding: [6, 0, 0, 1], lineHeight: 15}
            }
        }
    },
    graphic: PANEL_LABELS.map(function (p) {
        return {
            type: 'text', x: p[1], y: p[2], silent: true,
            style: {text: p[0], fontFamily: SERIF, fontSize: 22, fontWeight: 'bold', fill: '#000',
                align: 'center', verticalAlign: 'middle'}
        };
    }),
    series: series
};

chart.setOption(option);

window.addEventListener('resize', function () {
    chart.resize();
});
</script>
</body>
</html>
